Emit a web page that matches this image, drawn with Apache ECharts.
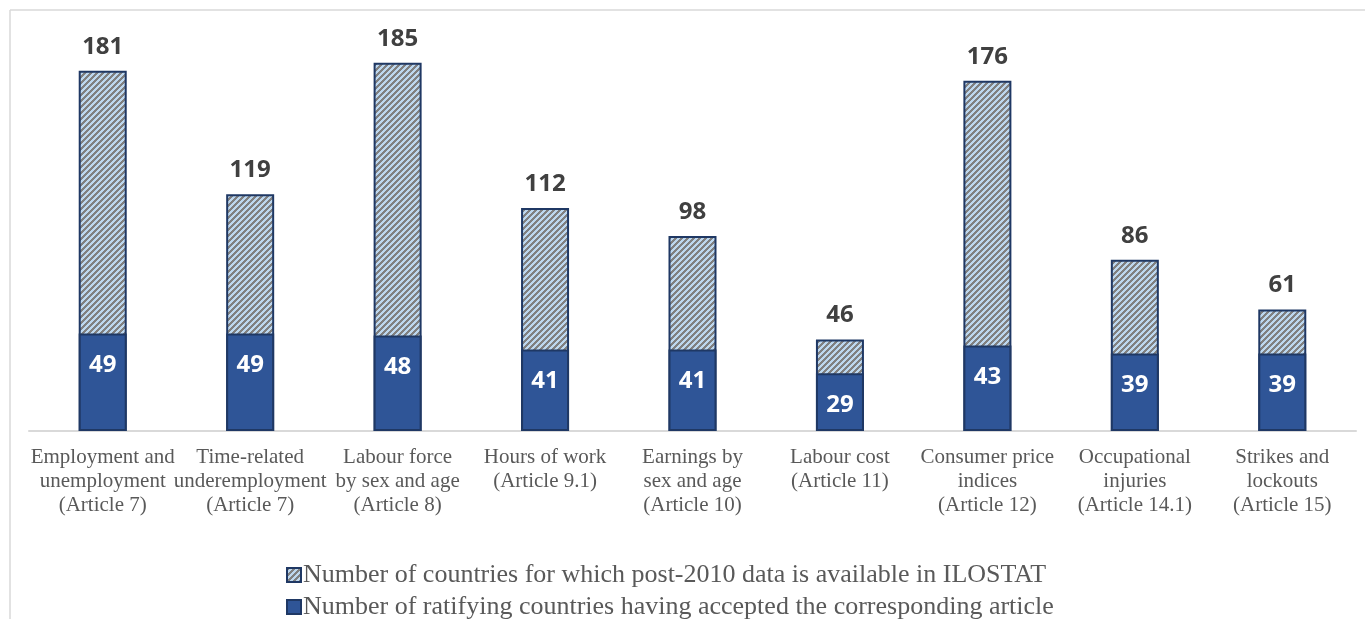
<!DOCTYPE html>
<html>
<head>
<meta charset="utf-8">
<script src="https://cdn.jsdelivr.net/npm/echarts@6/dist/echarts.min.js"></script>
<style>html,body{margin:0;padding:0;background:#fff;}#c{width:1365px;height:619px;}</style>
</head>
<body>
<div id="c"></div>
<script>
const categories = [
  'Employment and\nunemployment\n(Article 7)',
  'Time-related\nunderemployment\n(Article 7)',
  'Labour force\nby sex and age\n(Article 8)',
  'Hours of work\n(Article 9.1)',
  'Earnings by\nsex and age\n(Article 10)',
  'Labour cost\n(Article 11)',
  'Consumer price\nindices\n(Article 12)',
  'Occupational\ninjuries\n(Article 14.1)',
  'Strikes and\nlockouts\n(Article 15)'
];
const availableCountries = [181, 119, 185, 112, 98, 46, 176, 86, 61];
const ratifyingCountries = [49, 49, 48, 41, 41, 29, 43, 39, 39];
const seriesNames = [
  'Number of countries for which post-2010 data is available in ILOSTAT',
  'Number of ratifying countries having accepted the corresponding article'
];

function makeHatch() {
  const n = 6;
  const cv = document.createElement('canvas');
  cv.width = n; cv.height = n;
  const ctx = cv.getContext('2d');
  const img = ctx.createImageData(n, n);
  for (let y = 0; y < n; y++) {
    for (let x = 0; x < n; x++) {
      const i = (y * n + x) * 4;
      const gray = ((x + y) % n) < 3;
      const c = gray ? [128, 128, 128] : [189, 215, 238];
      img.data[i] = c[0]; img.data[i + 1] = c[1]; img.data[i + 2] = c[2]; img.data[i + 3] = 255;
    }
  }
  ctx.putImageData(img, 0, 0);
  return cv;
}
const hatch = { image: makeHatch(), repeat: 'repeat' };

const legendText = { fontFamily: 'Liberation Serif', fontSize: 26, color: '#595959', padding: [0, 0, 0, -3] };
const chart = echarts.init(document.getElementById('c'), null, { renderer: 'canvas' });
chart.setOption({
  animation: false,
  backgroundColor: '#ffffff',
  graphic: [
    { type: 'line', shape: { x1: 10, y1: 10, x2: 1365, y2: 10 }, style: { stroke: '#d9d9d9', lineWidth: 1.5 } },
    { type: 'line', shape: { x1: 10, y1: 10, x2: 10, y2: 619 }, style: { stroke: '#d9d9d9', lineWidth: 1.5 } }
  ],
  grid: { left: 29, right: 9, top: 33, bottom: 188, containLabel: false },
  legend: [
    {
      left: 281, top: 557, icon: 'rect', itemWidth: 14, itemHeight: 14,
      selectedMode: false, textStyle: legendText, data: [seriesNames[0]]
    },
    {
      left: 281, top: 589, icon: 'rect', itemWidth: 14, itemHeight: 14,
      selectedMode: false, textStyle: legendText, data: [seriesNames[1]]
    }
  ],
  xAxis: {
    type: 'category',
    data: categories,
    axisLine: { lineStyle: { color: '#d9d9d9', width: 2 } },
    axisTick: { show: false },
    axisLabel: {
      interval: 0,
      margin: 14,
      fontFamily: 'Liberation Serif',
      fontSize: 21,
      lineHeight: 24,
      color: '#595959'
    }
  },
  yAxis: {
    type: 'value',
    min: 0,
    max: 200,
    show: false,
    splitLine: { show: false }
  },
  series: [
    {
      name: seriesNames[0],
      type: 'bar',
      data: availableCountries,
      barWidth: 48,
      barGap: '-100%',
      z: 2,
      itemStyle: { color: hatch, borderColor: '#1f3864', borderWidth: 2 },
      label: {
        show: true,
        position: 'top',
        distance: 12,
        fontFamily: 'Open Sans',
        fontWeight: 'bold',
        fontSize: 24,
        color: '#404040'
      }
    },
    {
      name: seriesNames[1],
      type: 'bar',
      data: ratifyingCountries,
      barWidth: 48,
      barGap: '-100%',
      z: 3,
      itemStyle: { color: '#2f5597', borderColor: '#1f3864', borderWidth: 2 },
      label: {
        show: true,
        position: 'insideTop',
        distance: 20,
        fontFamily: 'Open Sans',
        fontWeight: 'bold',
        fontSize: 24,
        color: '#ffffff'
      }
    }
  ]
});
</script>
</body>
</html>
